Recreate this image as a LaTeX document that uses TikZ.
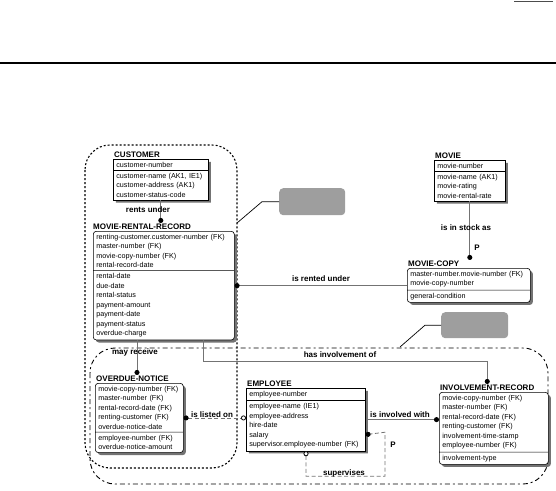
\documentclass[tikz,border=0pt]{standalone}
\usepackage{fontspec}
\setmainfont{Liberation Sans}
\usetikzlibrary{shapes.multipart,shadows,arrows.meta,positioning}

\tikzset{
	entity/.style={rectangle split, rectangle split parts=2, draw, line width=0.6pt, fill=white,
		align=left, inner xsep=3pt, inner ysep=2.5pt, anchor=north west,
		font=\fontsize{7.2}{9.5}\selectfont,
		drop shadow={shadow xshift=2.5pt, shadow yshift=-2.5pt, fill=black!55, opacity=1}},
	depentity/.style={entity, rounded corners=3pt},
	etitle/.style={anchor=south west, inner sep=1pt, font=\fontsize{8}{9}\selectfont\bfseries},
	rlabel/.style={inner sep=0.5pt, font=\fontsize{8}{9}\selectfont\bfseries},
	rel/.style={draw=black!55, line width=0.8pt},
	nonid/.style={rel, dash pattern=on 4pt off 2.5pt},
	dotend/.style={-{Circle[length=5pt, width=5pt, color=black]}},
	lregion/.style={line width=1.1pt, dash pattern=on 2pt off 2pt, rounded corners=25pt},
	bregion/.style={line width=0.9pt, dash pattern=on 5pt off 3pt on 2pt off 3pt, rounded corners=25pt},
	note/.style={fill=black!38, rounded corners=4pt, inner sep=0pt, anchor=north west},
	leader/.style={line width=0.7pt}
}

\begin{document}
\begin{tikzpicture}[x=1pt,y=-1pt]
	\useasboundingbox (0,0) rectangle (556,490);
	\draw[line width=1.2pt, black!70] (514,1.5) -- (553,1.5);
	\draw[line width=1.1pt] (0,63) -- (556,63);

	\draw[lregion] (85,145) rectangle (237,468);
	\draw[bregion] (90,348) rectangle (548,484);

	\node[note, minimum width=66pt, minimum height=27pt] (note1) at (279,188) {};
	\node[note, minimum width=67pt, minimum height=26pt] (note2) at (441,312) {};
	\coordinate (lr-edge) at (237,223);
	\coordinate (br-edge) at (400,347);
	\draw[leader] (note1.west) -- ++(-17,0) -- (lr-edge);
	\draw[leader] (note2.west) -- ++(-16,0) -- (br-edge);

	\node[entity, text width=89pt] (customer) at (113,159) {customer-number
		\nodepart{two}customer-name (AK1, IE1)\\ customer-address (AK1)\\ customer-status-code};
	\node[etitle] (customer-t) at (customer.north west) {CUSTOMER};

	\node[depentity, text width=135pt] (mrr) at (93,231) {renting-customer.customer-number (FK)\\
		master-number (FK)\\ movie-copy-number (FK)\\ rental-record-date
		\nodepart{two}rental-date\\ due-date\\ rental-status\\ payment-amount\\ payment-date\\
		payment-status\\ overdue-charge};
	\node[etitle] (mrr-t) at ([xshift=-1pt]mrr.north west) {MOVIE-RENTAL-RECORD};

	\node[entity, text width=65pt] (movie) at (434,160) {movie-number
		\nodepart{two}movie-name (AK1)\\ movie-rating\\ movie-rental-rate};
	\node[etitle] (movie-t) at (movie.north west) {MOVIE};

	\node[depentity, text width=117pt] (copy) at (407,268) {master-number.movie-number (FK)\\ movie-copy-number
		\nodepart{two}general-condition};
	\node[etitle] (copy-t) at (copy.north west) {MOVIE-COPY};

	\node[depentity, text width=82pt] (notice) at (95,383) {movie-copy-number (FK)\\ master-number (FK)\\
		rental-record-date (FK)\\ renting-customer (FK)\\ overdue-notice-date
		\nodepart{two}employee-number (FK)\\ overdue-notice-amount};
	\node[etitle] (notice-t) at (notice.north west) {OVERDUE-NOTICE};

	\node[entity, text width=113pt] (employee) at (246,388) {employee-number
		\nodepart{two}employee-name (IE1)\\ employee-address\\ hire-date\\ salary\\
		supervisor.employee-number (FK)};
	\node[etitle] (employee-t) at (employee.north west) {EMPLOYEE};

	\node[depentity, text width=103pt] (involve) at (439,392) {movie-copy-number (FK)\\ master-number (FK)\\
		rental-record-date (FK)\\ renting-customer (FK)\\ involvement-time-stamp\\ employee-number (FK)
		\nodepart{two}involvement-type};
	\node[etitle] (involve-t) at (involve.north west) {INVOLVEMENT-RECORD};

	\draw[rel, dotend] (customer.south) -- (customer.south |- mrr-t.north);
	\draw[rel, {Circle[length=5pt, width=5pt, color=black]}-] (mrr.east) -- (mrr.east -| copy.west);
	\draw[rel, dotend] (movie.south) -- (movie.south |- copy-t.north);
	\draw[rel, dotend] ([xshift=44pt]mrr.south west) -- ([xshift=44pt]mrr.south west |- notice-t.north);
	\draw[rel, dotend] ([xshift=110pt]mrr.south west) -- ++(0,21) -| (involve-t.north);
	\draw[nonid, {Circle[length=5pt, width=5pt, color=black]}-{Circle[open, length=5pt, width=5pt, fill=white, color=black]}]
		(notice.east) -- (notice.east -| employee.west);
	\draw[rel, dotend] (employee.east) -- (employee.east -| involve.west);
	\draw[nonid, {Circle[open, length=5pt, width=5pt, fill=white, color=black]}-{Circle[length=5pt, width=5pt, color=black]}]
		([xshift=60pt]employee.south west) -- ++(0,25) -- ++(79,0) -- ++(0,-44) -- ([yshift=-15pt]employee.east);

	\node[rlabel] (l-rents) at (148,210) {rents under};
	\node[rlabel] (l-rented) at (321,279) {is rented under};
	\node[rlabel] (l-stock) at (466,228) {is in stock as};
	\node[rlabel] (p-stock) at (477,248) {P};
	\node[rlabel] (l-receive) at (135,352) {may receive};
	\node[rlabel] (l-involvement) at (340,355) {has involvement of};
	\node[rlabel] (l-listed) at (212,415) {is listed on};
	\node[rlabel] (l-involved) at (400,415) {is involved with};
	\node[rlabel] (p-super) at (393,445) {P};
	\node[rlabel] (l-super) at (344,473) {supervises};
\end{tikzpicture}
\end{document}
